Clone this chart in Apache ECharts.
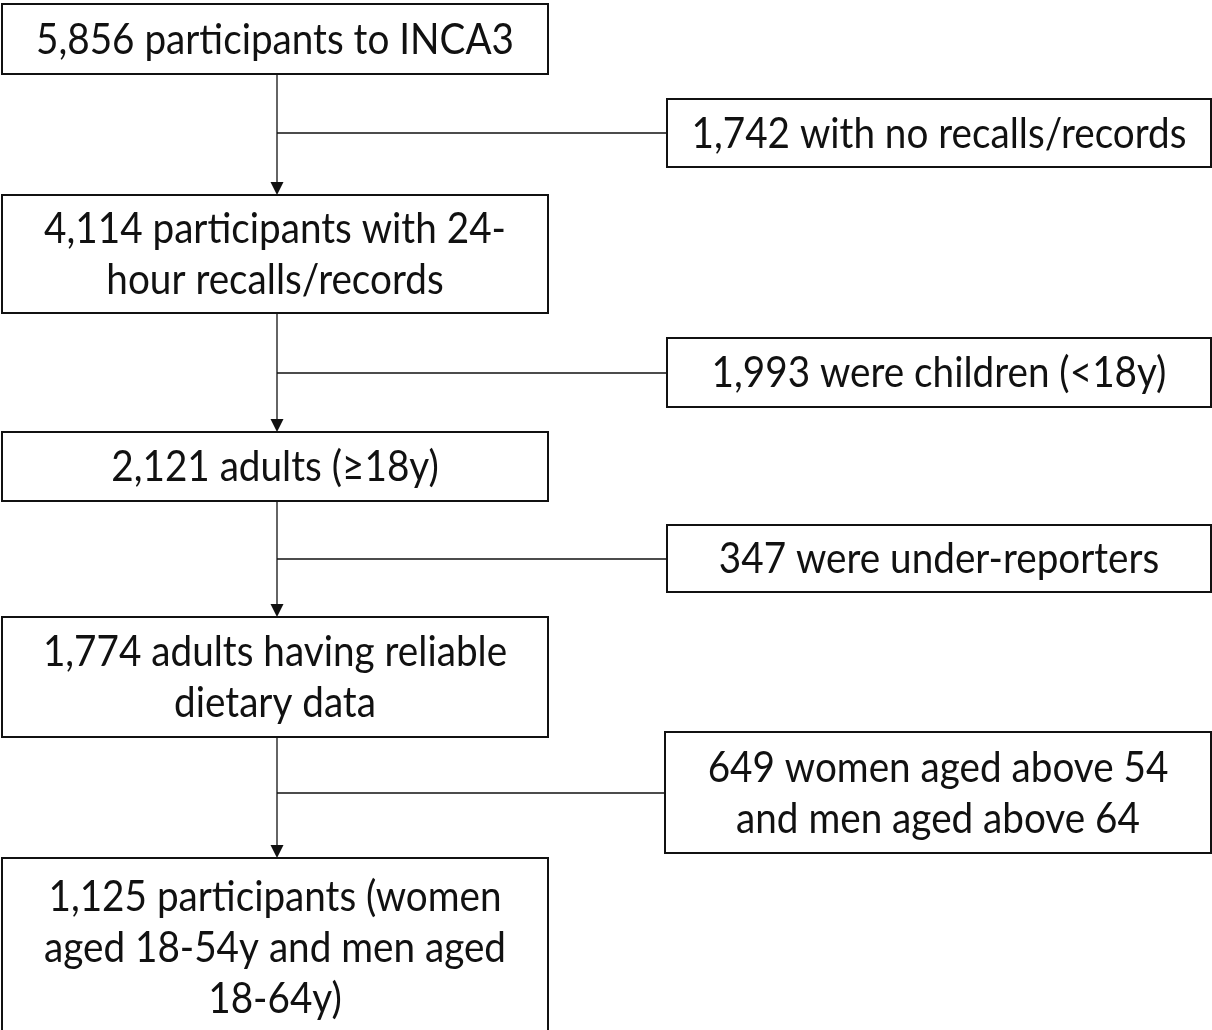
<!DOCTYPE html>
<html>
<head>
<meta charset="utf-8">
<title>INCA3 flow chart</title>
<script src="https://cdn.jsdelivr.net/npm/echarts@6/dist/echarts.min.js"></script>
<style>
  html, body { margin: 0; padding: 0; background: #fff; }
  #chart { width: 1212px; height: 1030px; }
</style>
</head>
<body>
<div id="chart"></div>
<script>
// box texts
var mainLabels = [
    '5,856 participants to INCA3',
    '4,114 participants with 24-\nhour recalls/records',
    '2,121 adults (\u226518y)',
    '1,774 adults having reliable\ndietary data',
    '1,125 participants (women\naged 18-54y and men aged\n18-64y)'
];
var exclusionLabels = [
    '1,742 with no recalls/records',
    '1,993 were children (<18y)',
    '347 were under-reporters',
    '649 women aged above 54\nand men aged above 64'
];

// layout (in page pixels, mapped through hidden value axes)
var mainLeft = 2, mainRight = 548, spineX = 277;
var mainTop = [4, 195, 432, 617, 858];
var mainBottom = [74, 313, 501, 737, 1036];
var sideLeft = [667, 667, 667, 665], sideRight = 1211;
var sideTop = [99, 338, 525, 732];
var sideBottom = [167, 407, 592, 853];
var branchY = [133, 373, 559, 793];

var FONT = 'Lato, "Liberation Sans", sans-serif';
var FONT_SIZE = 43;

// squeeze text horizontally so the first label is as wide as in the picture (478px)
var textScale = (function () {
    var ctx = document.createElement('canvas').getContext('2d');
    ctx.font = FONT_SIZE + 'px ' + FONT;
    var w = ctx.measureText(mainLabels[0]).width;
    return w > 0 ? Math.min(1, 478 / w) : 1;
})();

var boxData = [];
mainLabels.forEach(function (t, i) {
    boxData.push({value: [mainLeft, mainTop[i], mainRight, mainBottom[i]], label: t});
});
exclusionLabels.forEach(function (t, i) {
    boxData.push({value: [sideLeft[i], sideTop[i], sideRight, sideBottom[i]], label: t});
});

var linkData = [];
for (var i = 0; i < mainLabels.length - 1; i++) {
    linkData.push({value: [spineX, mainBottom[i], mainTop[i + 1], branchY[i], sideLeft[i]]});
}

var chart = echarts.init(document.getElementById('chart'), null, {renderer: 'canvas'});
chart.setOption({
    animation: false,
    backgroundColor: '#fff',
    grid: {left: 0, right: 0, top: 0, bottom: 0},
    xAxis: {type: 'value', min: 0, max: 1212, show: false},
    yAxis: {type: 'value', min: 0, max: 1030, inverse: true, show: false},
    series: [
        {
            type: 'custom',
            name: 'links',
            silent: true,
            data: linkData,
            renderItem: function (params, api) {
                var x = api.value(0), y0 = api.value(1), y1 = api.value(2),
                    by = api.value(3), bx = api.value(4);
                var a = api.coord([x, y0]), b = api.coord([x, y1]);
                var c = api.coord([x, by]), d = api.coord([bx, by]);
                var lineStyle = {stroke: '#111', lineWidth: 1.3, fill: null};
                return {
                    type: 'group',
                    children: [
                        {type: 'line', shape: {x1: a[0], y1: a[1], x2: b[0], y2: b[1] - 12}, style: lineStyle},
                        {type: 'line', shape: {x1: c[0], y1: c[1], x2: d[0], y2: d[1]}, style: lineStyle},
                        {type: 'polygon', shape: {points: [[b[0] - 6.5, b[1] - 13], [b[0] + 6.5, b[1] - 13], [b[0], b[1]]]},
                            style: {fill: '#111'}}
                    ]
                };
            }
        },
        {
            type: 'custom',
            name: 'boxes',
            silent: true,
            data: boxData,
            renderItem: function (params, api) {
                var p0 = api.coord([api.value(0), api.value(1)]);
                var p1 = api.coord([api.value(2), api.value(3)]);
                var item = boxData[params.dataIndex];
                return {
                    type: 'group',
                    children: [
                        {type: 'rect', shape: {x: p0[0], y: p0[1], width: p1[0] - p0[0], height: p1[1] - p0[1]},
                            style: {fill: '#fff', stroke: '#111', lineWidth: 2}},
                        {type: 'text',
                            x: (p0[0] + p1[0]) / 2,
                            y: (p0[1] + p1[1]) / 2 + 1,
                            scaleX: textScale,
                            style: {
                                text: item.label,
                                x: 0,
                                y: 0,
                                align: 'center',
                                verticalAlign: 'middle',
                                fontFamily: FONT,
                                fontSize: FONT_SIZE,
                                lineHeight: 51,
                                fill: '#111'
                            }}
                    ]
                };
            }
        }
    ]
});
</script>
</body>
</html>
